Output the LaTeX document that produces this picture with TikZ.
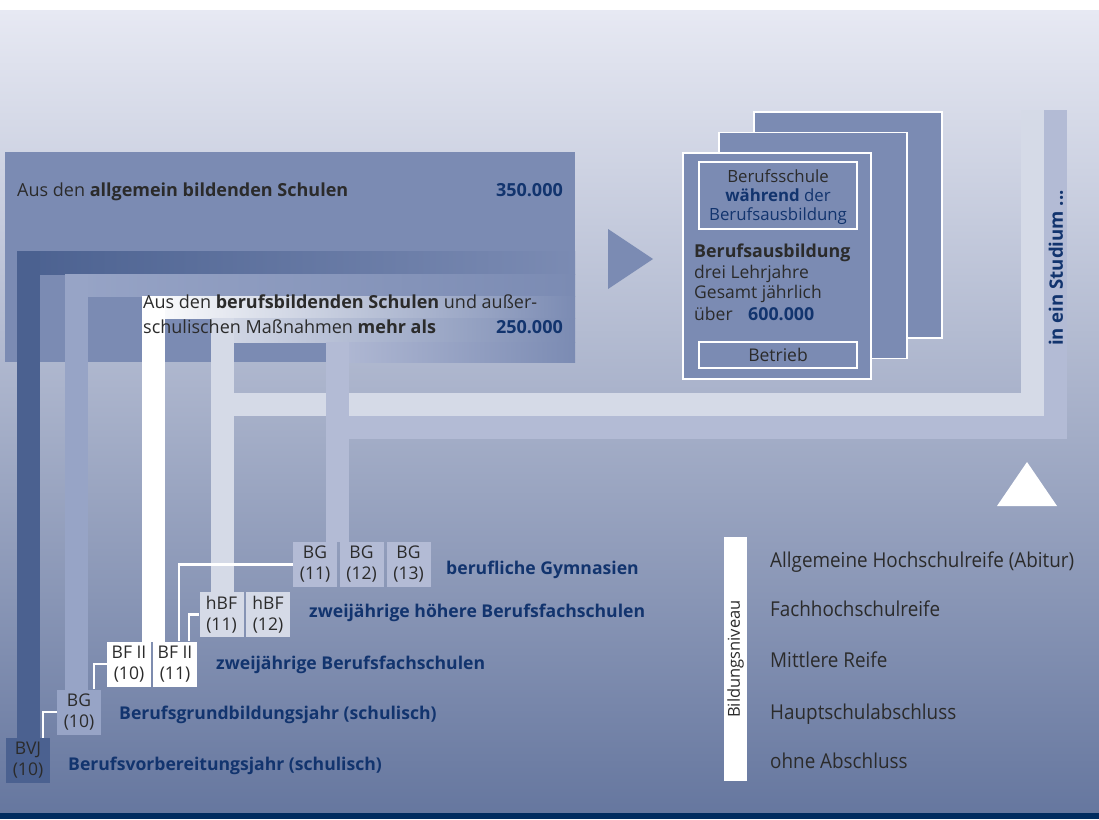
\documentclass[tikz,border=0pt]{standalone}
\usepackage{fontspec}
\setmainfont{Open Sans}
\newfontfamily\condfont[FakeStretch=0.92]{Open Sans}

\definecolor{bgtop}{HTML}{E7E9F3}
\definecolor{bgbot}{HTML}{66779F}
\definecolor{navybar}{HTML}{002B5F}
\definecolor{boxblue}{HTML}{7B8BB3}
\definecolor{bvjblue}{HTML}{4B6190}
\definecolor{bgblue}{HTML}{97A4C6}
\definecolor{hbflight}{HTML}{D5DAE7}
\definecolor{bgmid}{HTML}{B3BBD5}
\definecolor{navytext}{HTML}{12346E}
\definecolor{txtgray}{HTML}{2B2B2B}

\begin{document}
\begin{tikzpicture}[x=1pt,y=-1pt,
  yearbox/.style={minimum width=44pt,minimum height=45pt,inner sep=0pt,align=center,
    font=\fontsize{17.5}{21}\selectfont,text=txtgray},
  schoolname/.style={anchor=base west,inner sep=0pt,font=\fontsize{17.6}{20}\selectfont\bfseries,text=navytext},
  leveltext/.style={anchor=base west,inner sep=0pt,font=\fontsize{20.5}{22}\selectfont\condfont,text=txtgray},
  plain/.style={inner sep=0pt,font=\fontsize{17.5}{20}\selectfont,text=txtgray},
  sheet/.style={draw=white,line width=1.5pt,fill=boxblue,minimum width=188pt,minimum height=226pt,inner sep=0pt},
  frame/.style={draw=white,line width=1.2pt,minimum width=158pt,inner sep=0pt},
  link/.style={draw=white,line width=2.2pt}]

\useasboundingbox (0,0) rectangle (1099,819);
\fill[white] (0,0) rectangle (1099,819);
\shade[top color=bgtop,bottom color=bgbot] (0,10) rectangle (1099,813);
\fill[navybar] (0,813) rectangle (1099,819);

\fill[boxblue] (5,152) rectangle (575,362);
\shade[left color=bvjblue,right color=boxblue] (17,251) rectangle (575,274);
\shade[left color=bgblue,right color=boxblue] (65,274) rectangle (575,296);
\shade[left color=white,right color=boxblue] (142,296) rectangle (575,318);
\shade[left color=hbflight,right color=boxblue] (211,318) rectangle (575,342);
\shade[left color=bgmid,right color=boxblue] (326,342) rectangle (575,362);

\fill[bvjblue] (17,251) rectangle (40,738);
\fill[bgblue] (65,274) rectangle (88,690);
\fill[white] (142,296) rectangle (165,642);
\fill[hbflight] (211,318) rectangle (234,592);
\fill[hbflight] (211,393) rectangle (1044,416);
\fill[hbflight] (1021,110) rectangle (1044,416);
\fill[bgmid] (326,342) rectangle (349,542);
\fill[bgmid] (349,416) rectangle (1067,439);
\fill[bgmid] (1044,110) rectangle (1067,439);

\node[plain,anchor=base west,font=\fontsize{18}{20}\selectfont] (allg) at (17,196) {Aus den \textbf{allgemein bildenden Schulen}};
\node[plain,anchor=base east,font=\fontsize{18}{20}\selectfont\bfseries,text=navytext] (allgnum) at (563,196) {350.000};
\node[plain,anchor=base west,font=\fontsize{18}{20}\selectfont] (beruf1) at (143,308) {Aus den \textbf{berufsbildenden Schulen} und außer-};
\node[plain,anchor=base west,font=\fontsize{18}{20}\selectfont] (beruf2) at (143,333) {schulischen Maßnahmen \textbf{mehr als}};
\node[plain,anchor=base east,font=\fontsize{18}{20}\selectfont\bfseries,text=navytext] (berufnum) at (563,333) {250.000};

\fill[boxblue] (608,229) -- (653,259) -- (608,289) -- cycle;

\node[sheet] (sheet3) at (848,225) {};
\node[sheet] (sheet2) at (813,245.5) {};
\node[sheet] (sheet1) at (777,266) {};
\node[frame,minimum height=67pt] (schule) at (778,195.5) {};
\node[plain,anchor=base,font=\fontsize{16.8}{20}\selectfont] (schule1) at (778,182) {Berufsschule};
\node[plain,anchor=base,font=\fontsize{16.8}{20}\selectfont,text=navytext] (schule2) at (778,201) {\textbf{während} der};
\node[plain,anchor=base,font=\fontsize{16.8}{20}\selectfont,text=navytext] (schule3) at (778,220) {Berufsausbildung};
\node[plain,anchor=base west,font=\fontsize{17.8}{20}\selectfont\bfseries] (ausb1) at (694,257) {Berufsausbildung};
\node[plain,anchor=base west] (ausb2) at (694,278) {drei Lehrjahre};
\node[plain,anchor=base west] (ausb3) at (694,298) {Gesamt jährlich};
\node[plain,anchor=base west] (ausb4) at (694,320) {über};
\node[plain,anchor=base west,font=\fontsize{17.8}{20}\selectfont\bfseries,text=navytext] (ausbnum) at (748,320) {600.000};
\node[frame,minimum height=26pt] (betrieb) at (778,355) {};
\node[plain,anchor=base] (betriebtxt) at (778,361) {Betrieb};

\node[plain,rotate=90,font=\fontsize{18.6}{20}\selectfont\bfseries,text=navytext] (studium) at (1056,268) {in ein Studium ...};
\fill[white] (997,506) -- (1027,462) -- (1057,506) -- cycle;

\node[yearbox,fill=bvjblue] (bvj) at (28,760.5) {BVJ\\(10)};
\node[yearbox,fill=bgblue] (bg10) at (79,712) {BG\\(10)};
\node[yearbox,fill=white] (bf10) at (129,664) {BF II\\(10)};
\node[yearbox,fill=white] (bf11) at (175,664) {BF II\\(11)};
\node[yearbox,fill=hbflight] (hbf11) at (221.5,614.5) {hBF\\(11)};
\node[yearbox,fill=hbflight] (hbf12) at (268,614.5) {hBF\\(12)};
\node[yearbox,fill=bgmid] (bg11) at (315,564.5) {BG\\(11)};
\node[yearbox,fill=bgmid] (bg12) at (361.5,564.5) {BG\\(12)};
\node[yearbox,fill=bgmid] (bg13) at (408.5,564.5) {BG\\(13)};

\draw[link] ([xshift=-7pt]bvj.north east) |- (bg10.west);
\draw[link] ([xshift=-7pt]bg10.north east) |- (bf10.west);
\draw[link] ([xshift=-18pt]bf11.north east) |- (bg11.west);
\draw[link] ([xshift=-8pt]bf11.north east) |- (hbf11.west);

\node[schoolname] (gym) at (446,574) {berufliche Gymnasien};
\node[schoolname] (hbfs) at (309,617) {zweijährige höhere Berufsfachschulen};
\node[schoolname] (bfs) at (216,669) {zweijährige Berufsfachschulen};
\node[schoolname] (bgj) at (119,719) {Berufsgrundbildungsjahr (schulisch)};
\node[schoolname] (bvjtxt) at (68,770) {Berufsvorbereitungsjahr (schulisch)};

\node[fill=white,rotate=90,minimum width=244pt,minimum height=23pt,inner sep=0pt,
  font=\fontsize{16.5}{18}\selectfont,text=txtgray] (niveau) at (735.5,659) {Bildungsniveau};
\node[leveltext] (abitur) at (770,567) {Allgemeine Hochschulreife (Abitur)};
\node[leveltext] (fhr) at (770,616) {Fachhochschulreife};
\node[leveltext] (mr) at (770,667) {Mittlere Reife};
\node[leveltext] (hsa) at (770,719) {Hauptschulabschluss};
\node[leveltext] (ohne) at (770,768) {ohne Abschluss};

\end{tikzpicture}
\end{document}
